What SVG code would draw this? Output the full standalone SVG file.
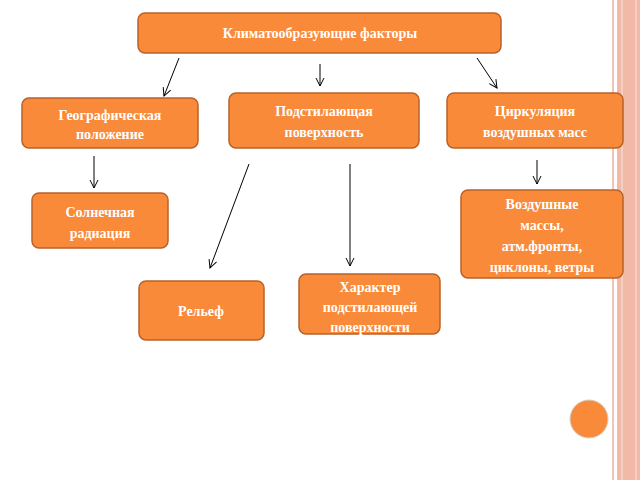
<svg xmlns="http://www.w3.org/2000/svg" width="640" height="480" viewBox="0 0 640 480">
<defs>
<marker id="ah" markerWidth="10" markerHeight="10" refX="9" refY="5" orient="auto" markerUnits="userSpaceOnUse"><path d="M1,1 L9,5 L1,9" fill="none" stroke="#000" stroke-width="1"/></marker>
</defs>
<style>
.b{fill:#f98a3a;stroke:#b8622a;stroke-width:1.5}
.t{font-family:"Liberation Serif",serif;font-weight:bold;font-size:14px;fill:#fff;text-anchor:middle}
.c{stroke:#000;stroke-width:1;fill:none;marker-end:url(#ah)}
</style>
<rect width="640" height="480" fill="#fff"/>
<rect x="612" y="0" width="2" height="480" fill="#f3c4b6"/>
<rect x="617" y="0" width="23" height="480" fill="#f2b8a8"/>
<rect x="621" y="0" width="2" height="480" fill="#f6cfc3"/>
<rect x="635" y="0" width="2" height="480" fill="#f6cfc3"/>
<g id="top"><rect class="b" x="138" y="13" width="363" height="40" rx="7"/><text class="t" x="320" y="38">Климатообразующие факторы</text></g>
<g id="geo"><rect class="b" x="22" y="98" width="176" height="50" rx="7"/><text class="t" x="110" y="120">Географическая</text><text class="t" x="110" y="139">положение</text></g>
<g id="pod"><rect class="b" x="229" y="93" width="190" height="55" rx="7"/><text class="t" x="324" y="116">Подстилающая</text><text class="t" x="324" y="137">поверхность</text></g>
<g id="cir"><rect class="b" x="447" y="93" width="176" height="55" rx="7"/><text class="t" x="535" y="116">Циркуляция</text><text class="t" x="535" y="137">воздушных масс</text></g>
<g id="sol"><rect class="b" x="32" y="193" width="136" height="55" rx="7"/><text class="t" x="100" y="217">Солнечная</text><text class="t" x="100" y="238">радиация</text></g>
<g id="voz"><rect class="b" x="461" y="190" width="162" height="88" rx="7"/><text class="t" x="542" y="209">Воздушные</text><text class="t" x="542" y="230">массы,</text><text class="t" x="542" y="251">атм.фронты,</text><text class="t" x="542" y="272">циклоны, ветры</text></g>
<g id="rel"><rect class="b" x="139" y="281" width="125" height="59" rx="7"/><text class="t" x="201" y="316">Рельеф</text></g>
<g id="har"><rect class="b" x="299" y="274" width="141" height="60" rx="7"/><text class="t" x="370" y="292">Характер</text><text class="t" x="370" y="312">подстилающей</text><text class="t" x="370" y="332">поверхности</text></g>
<g id="connectors">
<line class="c" x1="179" y1="58" x2="164" y2="96"/>
<line class="c" x1="320" y1="64" x2="320" y2="86"/>
<line class="c" x1="477" y1="58" x2="497" y2="88"/>
<line class="c" x1="94" y1="156" x2="94" y2="188"/>
<line class="c" x1="537" y1="160" x2="537" y2="184"/>
<line class="c" x1="249" y1="164" x2="210" y2="268"/>
<line class="c" x1="350" y1="164" x2="350" y2="266"/>
</g>
<circle cx="589" cy="419" r="19" fill="#f98a3a" stroke="#d9cfc8" stroke-width="1"/>
</svg>
